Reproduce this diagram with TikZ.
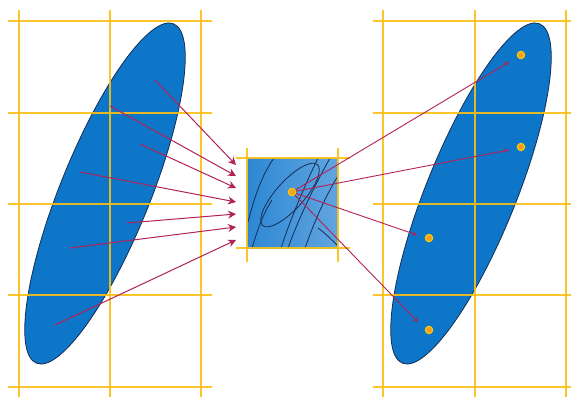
\documentclass[tikz,border=0pt]{standalone}
\usetikzlibrary{arrows.meta}
\definecolor{gridyellow}{RGB}{250,192,20}
\definecolor{ellblue}{RGB}{14,118,200}
\definecolor{ellline}{RGB}{20,45,85}
\definecolor{maparrow}{RGB}{178,34,88}
\definecolor{dotorange}{RGB}{248,160,30}
\definecolor{boxblue}{RGB}{45,135,212}

\begin{document}
\begin{tikzpicture}[x=1pt,y=-1pt,
  gridline/.style={gridyellow,line width=2.3pt,opacity=0.9},
  blob/.style={fill=ellblue,draw=ellline,line width=0.8pt},
  zoomline/.style={ellline,line width=0.8pt},
  maparr/.style={maparrow,line width=1pt,-{Stealth[length=8pt,width=8pt]}},
  smallarr/.style={maparrow,line width=0.9pt,-{Stealth[length=4.5pt,width=4.5pt]}},
  spot/.style={circle,fill=dotorange,draw=yellow!70!orange,line width=0.9pt,inner sep=0pt,minimum size=7.5pt}]
\useasboundingbox (0,0) rectangle (571,397);

% left window
\begin{scope}
\draw[blob,rotate around={68:(105,193.5)}] (105,193.5) ellipse [x radius=183,y radius=45];
\draw[gridline] (19,10) -- (19,397);
\draw[gridline] (110,10) -- (110,397);
\draw[gridline] (201,10) -- (201,397);
\draw[gridline] (8,21) -- (212,21);
\draw[gridline] (8,113) -- (212,113);
\draw[gridline] (8,204) -- (212,204);
\draw[gridline] (8,295) -- (212,295);
\draw[gridline] (8,387) -- (212,387);
\end{scope}

% right window
\begin{scope}[shift={(365,0)}]
\draw[blob,rotate around={68:(106,193.5)}] (106,193.5) ellipse [x radius=183,y radius=45];
\draw[gridline] (18,10) -- (18,397);
\draw[gridline] (110,10) -- (110,397);
\draw[gridline] (201,10) -- (201,397);
\draw[gridline] (8,21) -- (212,21);
\draw[gridline] (8,113) -- (212,113);
\draw[gridline] (8,204) -- (212,204);
\draw[gridline] (8,295) -- (212,295);
\draw[gridline] (8,387) -- (212,387);
\end{scope}

% zoomed cell
\begin{scope}
\clip (247,158) rectangle (338,248);
\shade[left color=boxblue,right color=boxblue!75!white] (247,158) rectangle (338,248);
\draw[zoomline] (248,222) .. controls (255,195) and (262,175) .. (274,158);
\draw[zoomline] (252,248) .. controls (258,228) and (264,212) .. (272,200);
\draw[zoomline] (281,248) .. controls (292,215) and (305,185) .. (318,158);
\draw[zoomline] (288,248) .. controls (300,215) and (315,185) .. (330,158);
\draw[zoomline] (305,248) .. controls (315,220) and (326,195) .. (338,176);
\draw[zoomline] (318,228) .. controls (326,234) and (332,240) .. (338,246);
\draw[zoomline,rotate around={48:(290,195)}] (290,195) ellipse [x radius=41,y radius=14];
\end{scope}
\draw[gridline] (236,158) -- (350,158);
\draw[gridline] (236,248) -- (350,248);
\draw[gridline] (247,148) -- (247,262);
\draw[gridline] (338,148) -- (338,262);

% sample points
\node[spot] (p) at (292,192) {};
\node[spot] (q1) at (521,55) {};
\node[spot] (q2) at (521,147) {};
\node[spot] (q3) at (429,238) {};
\node[spot] (q4) at (429,330) {};

\coordinate (s1) at (155,80);
\coordinate (s2) at (110,106);
\coordinate (s3) at (140,144);
\coordinate (s4) at (80,172);
\coordinate (s5) at (127,223);
\coordinate (s6) at (70,248);
\coordinate (s7) at (55,325);
\coordinate (e1) at (236,165);
\coordinate (e2) at (236,176);
\coordinate (e3) at (236,188);
\coordinate (e4) at (236,202);
\coordinate (e5) at (236,214);
\coordinate (e6) at (236,227);
\coordinate (e7) at (236,240);
\coordinate (t1) at (509,62);
\coordinate (t2) at (509,150);
\coordinate (t3) at (417,235);
\coordinate (t4) at (418,322);

\draw[maparr] (s1) -- (e1);
\draw[maparr] (s2) -- (e2);
\draw[maparr] (s3) -- (e3);
\draw[maparr] (s4) -- (e4);
\draw[maparr] (s5) -- (e5);
\draw[maparr] (s6) -- (e6);
\draw[maparr] (s7) -- (e7);

\draw[smallarr] (p) -- (t1);
\draw[smallarr] (p) -- (t2);
\draw[smallarr] (p) -- (t3);
\draw[smallarr] (p) -- (t4);
\end{tikzpicture}
\end{document}
